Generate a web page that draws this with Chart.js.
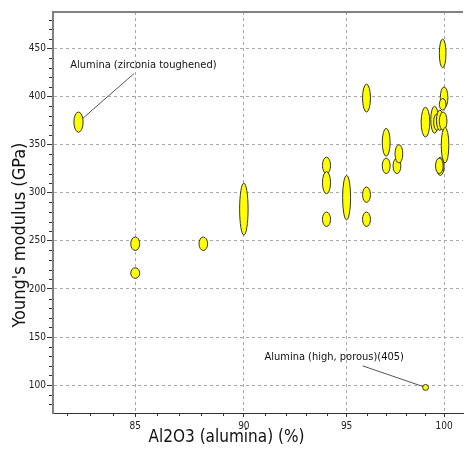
<!DOCTYPE html>
<html><head><meta charset="utf-8">
<script src="https://cdn.jsdelivr.net/npm/chart.js@4/dist/chart.umd.min.js"></script>
<style>html,body{margin:0;padding:0;background:#fff}#wrap{width:465px;height:450px}</style>
</head><body><div id="wrap"><canvas id="c" width="465" height="450"></canvas></div>
<script>
// ---- data ----
const xTickValues = [85, 90, 95, 100];
const yTickValues = [100, 150, 200, 250, 300, 350, 400, 450];
// Al2O3 content range (%) of each material record
const aluminaLow  = [82.3, 84.8, 84.8, 87.9, 89.8, 93.8, 93.8, 93.8, 94.8, 95.8, 95.8, 95.8, 96.8, 96.8, 97.35, 97.45, 98.8, 99.3, 99.45, 99.6, 99.75, 99.75, 99.8, 99.75, 99.85, 99.6, 99.55, 98.88];
const aluminaHigh = [82.7, 85.2, 85.2, 88.3, 90.2, 94.2, 94.2, 94.2, 95.2, 96.2, 96.2, 96.2, 97.2, 97.2, 97.75, 97.85, 99.25, 99.7, 99.8, 99.95, 100.15, 100.1, 100.2, 100.1, 100.25, 100.0, 99.95, 99.18];
// Young's modulus range (GPa) of each material record
const modulusLow  = [363, 240, 211, 240, 256, 320, 299, 265, 272, 290, 265, 384, 338, 320, 320, 331, 358, 362, 365, 365, 365, 430, 388, 386, 331, 318, 320, 94.5];
const modulusHigh = [384, 254, 222, 254, 310, 337, 322, 280, 318, 306, 280, 413, 367, 336, 336, 350, 389, 390, 382, 386, 384, 460, 410, 398, 368, 337, 336, 100.7];
const labelTexts   = ["Alumina (zirconia toughened)", "Alumina (high, porous)(405)"];
const labelRecords = [0, 27];
const xTitle = "Al2O3 (alumina) (%)";
const yTitle = "Young's modulus (GPa)";

const FONT = 'Tahoma, "DejaVu Sans Condensed", "Liberation Sans", sans-serif';

// label anchor positions (data coords) – layout only
const labelLayout = [
  {text: [82.14, 432.6], line: [84.95, 424]},
  {text: [90.98, 129.4], line: [95.81, 120]}
];

const centers = aluminaLow.map((v, i) => ({
  x: Math.sqrt(aluminaLow[i] * aluminaHigh[i]),
  y: (modulusLow[i] + modulusHigh[i]) / 2
}));

const ellipsePlugin = {
  id: 'ellipses',
  afterDatasetsDraw(chart) {
    const {ctx, chartArea: a, scales: {x, y}, width: W, height: H} = chart;
    ctx.save();
    // frame top line
    ctx.strokeStyle = '#808080'; ctx.lineWidth = 2;
    ctx.beginPath(); ctx.moveTo(a.left - 1, a.top); ctx.lineTo(a.right, a.top); ctx.stroke();
    // minor ticks
    ctx.strokeStyle = '#333'; ctx.lineWidth = 1;
    ctx.beginPath();
    for (let v = 80; v <= 480; v += 10) {
      if (v % 50 === 0) continue;
      const py = Math.round(y.getPixelForValue(v)) + 0.5;
      if (py < a.top || py > a.bottom) continue;
      ctx.moveTo(a.left - 4, py); ctx.lineTo(a.left - 1, py);
    }
    for (let v = 82; v <= 101; v += 1) {
      if (v % 5 === 0) continue;
      const px = Math.round(x.getPixelForValue(v)) + 0.5;
      if (px < a.left || px > a.right) continue;
      ctx.moveTo(px, a.bottom); ctx.lineTo(px, a.bottom + 3);
    }
    ctx.stroke();
    // axis titles (centred on the canvas, as in the reference)
    ctx.fillStyle = '#111';
    ctx.textAlign = 'center'; ctx.textBaseline = 'middle';
    ctx.font = '17px ' + FONT;
    ctx.fillText(xTitle, W / 2 - 6, 438);
    ctx.font = '18px ' + FONT;
    ctx.save(); ctx.translate(20, H / 2 + 10); ctx.rotate(-Math.PI / 2);
    ctx.fillText(yTitle, 0, 0); ctx.restore();
    // annotation lines
    ctx.strokeStyle = '#555'; ctx.lineWidth = 1;
    labelRecords.forEach((r, k) => {
      const L = labelLayout[k];
      ctx.beginPath();
      ctx.moveTo(x.getPixelForValue(L.line[0]), y.getPixelForValue(L.line[1]));
      ctx.lineTo(x.getPixelForValue(centers[r].x), y.getPixelForValue(centers[r].y));
      ctx.stroke();
    });
    // ellipses
    ctx.beginPath(); ctx.rect(a.left, a.top, a.right - a.left, a.bottom - a.top); ctx.clip();
    for (let i = 0; i < aluminaLow.length; i++) {
      const x1 = x.getPixelForValue(aluminaLow[i]), x2 = x.getPixelForValue(aluminaHigh[i]);
      const y1 = y.getPixelForValue(modulusLow[i]), y2 = y.getPixelForValue(modulusHigh[i]);
      ctx.beginPath();
      ctx.ellipse((x1 + x2) / 2, (y1 + y2) / 2, Math.abs(x2 - x1) / 2, Math.abs(y2 - y1) / 2, 0, 0, Math.PI * 2);
      ctx.fillStyle = '#ffff00'; ctx.fill();
      ctx.strokeStyle = '#333'; ctx.lineWidth = 1; ctx.stroke();
    }
    // annotation texts
    ctx.fillStyle = '#111'; ctx.font = '11px ' + FONT;
    ctx.textAlign = 'left'; ctx.textBaseline = 'middle';
    labelTexts.forEach((t, k) => {
      const L = labelLayout[k];
      ctx.fillText(t, x.getPixelForValue(L.text[0]), y.getPixelForValue(L.text[1]));
    });
    ctx.restore();
  }
};

new Chart(document.getElementById('c'), {
  type: 'scatter',
  data: { datasets: [{ data: centers, pointRadius: 0, pointHoverRadius: 0 }] },
  options: {
    responsive: false, animation: false, devicePixelRatio: 1,
    layout: { padding: { left: 0, top: 12, right: 2, bottom: 0 } },
    plugins: { legend: { display: false }, tooltip: { enabled: false } },
    scales: {
      x: {
        type: 'logarithmic', min: 81.4, max: 101,
        afterBuildTicks: s => { s.ticks = xTickValues.map(v => ({ value: v })); },
        afterFit: s => { s.height = 37; },
        grid: { color: '#a8a8a8', tickLength: 4, tickColor: '#333', tickBorderDash: [] },
        border: { display: true, color: '#333', width: 1, dash: [3, 3] },
        ticks: { callback: v => String(v), color: '#222', font: { family: FONT, size: 10 }, padding: 3, maxRotation: 0 },
        title: { display: false }
      },
      y: {
        type: 'linear', min: 71, max: 488,
        afterBuildTicks: s => { s.ticks = yTickValues.map(v => ({ value: v })); },
        afterFit: s => { s.width = 53; },
        grid: { color: '#a8a8a8', tickLength: 6, tickColor: '#333', tickBorderDash: [] },
        border: { display: true, color: '#808080', width: 2, dash: [3, 3] },
        ticks: { callback: v => String(v), color: '#222', font: { family: FONT, size: 10 }, padding: 1 },
        title: { display: false }
      }
    }
  },
  plugins: [ellipsePlugin]
});
</script></body></html>
